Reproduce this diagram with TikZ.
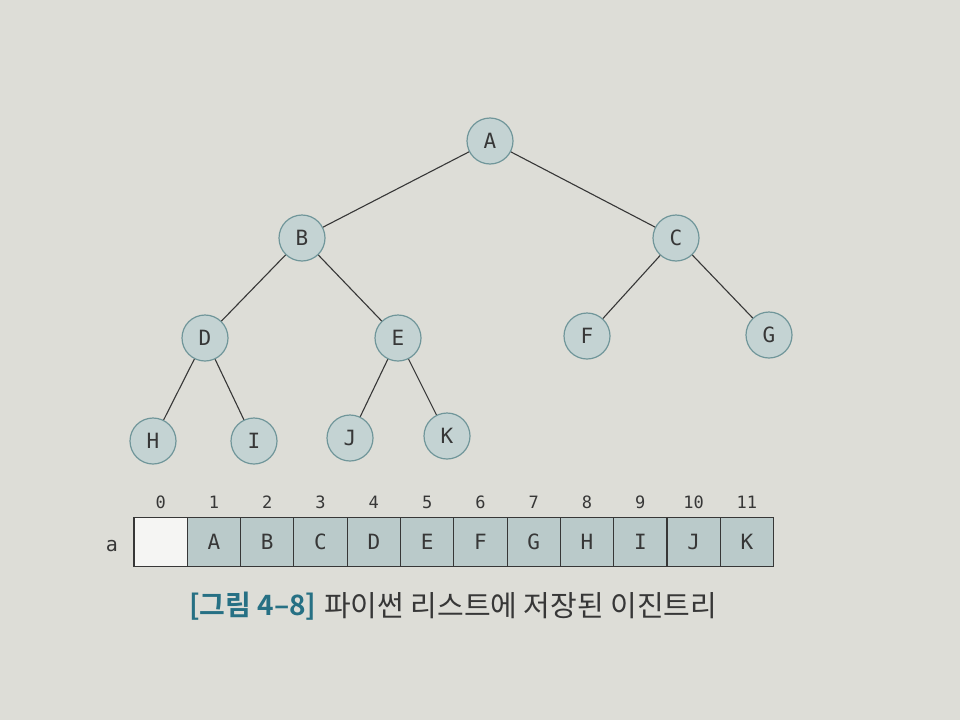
\documentclass[tikz,border=0pt]{standalone}
\usepackage{fontspec}
\setmonofont{DejaVu Sans Mono}
\newfontfamily\krfont{Noto Sans CJK KR}
\newfontfamily\krbold{Noto Sans CJK KR Bold}
\definecolor{bgpaper}{RGB}{221,221,215}
\definecolor{nodefill}{RGB}{196,211,211}
\definecolor{nodeline}{RGB}{112,150,154}
\definecolor{cellfill}{RGB}{186,202,202}
\definecolor{inkgray}{RGB}{55,55,55}
\definecolor{capteal}{RGB}{38,112,132}
\tikzset{
  tnode/.style={circle, draw=nodeline, fill=nodefill, line width=1.2pt, minimum size=46pt, inner sep=0pt, font=\ttfamily\fontsize{21}{21}\selectfont, text=inkgray},
  tedge/.style={draw=inkgray, line width=1.1pt},
  cellbox/.style={draw=inkgray, line width=1.1pt, fill=cellfill, minimum width=53.3pt, minimum height=49pt, inner sep=0pt, font=\ttfamily\fontsize{21}{21}\selectfont, text=inkgray},
  idxlabel/.style={font=\ttfamily\fontsize{17}{17}\selectfont, text=inkgray, inner sep=0pt}
}
\begin{document}
\begin{tikzpicture}[x=1pt,y=-1pt]
\fill[bgpaper] (0,0) rectangle (960,720);
\useasboundingbox (0,0) rectangle (960,720);
% tree nodes
\node[tnode] (A) at (490,141) {A};
\node[tnode] (B) at (302,238) {B};
\node[tnode] (C) at (676,238) {C};
\node[tnode] (D) at (205,338) {D};
\node[tnode] (E) at (398,338) {E};
\node[tnode] (F) at (587,336) {F};
\node[tnode] (G) at (769,335) {G};
\node[tnode] (H) at (153,441) {H};
\node[tnode] (I) at (254,441) {I};
\node[tnode] (J) at (350,438) {J};
\node[tnode] (K) at (447,436) {K};
% edges
\draw[tedge] (A) -- (B);
\draw[tedge] (A) -- (C);
\draw[tedge] (B) -- (D);
\draw[tedge] (B) -- (E);
\draw[tedge] (C) -- (F);
\draw[tedge] (C) -- (G);
\draw[tedge] (D) -- (H);
\draw[tedge] (D) -- (I);
\draw[tedge] (E) -- (J);
\draw[tedge] (E) -- (K);
% array
\node[cellbox, fill=white!70!bgpaper] (c0) at (160.65,542) {};
\foreach \i/\t in {1/A,2/B,3/C,4/D,5/E,6/F,7/G,8/H,9/I,10/J,11/K}{
  \node[cellbox] (c\i) at ({160.65+53.3*\i},542) {\t};
}
\foreach \i in {0,...,11}{
  \node[idxlabel] (n\i) at ({160.65+53.3*\i},502) {\i};
}
\node[idxlabel, font=\ttfamily\fontsize{20}{20}\selectfont] (arr) at (112,546) {a};
% caption
\node[anchor=west, inner sep=0pt, text=capteal, font=\krbold\fontsize{28}{28}\selectfont] (cap1) at (189,606) {[그림 4–8]};
\node[anchor=west, inner sep=0pt, text=inkgray, font=\krfont\fontsize{29}{29}\selectfont] (cap2) at (324,606) {파이썬 리스트에 저장된 이진트리};
\end{tikzpicture}
\end{document}
